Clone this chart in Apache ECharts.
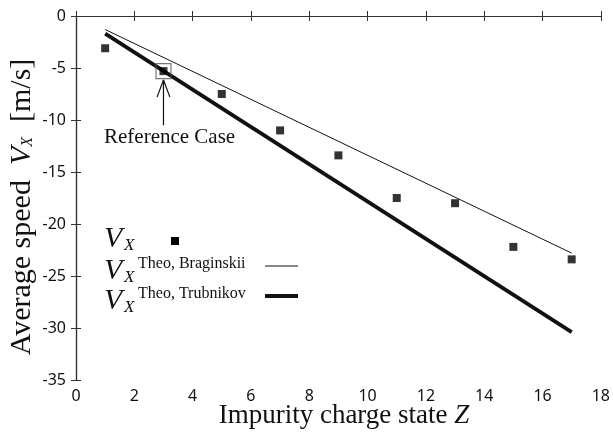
<!DOCTYPE html>
<html><head><meta charset="utf-8">
<script src="https://cdn.jsdelivr.net/npm/echarts@6/dist/echarts.min.js"></script>
<style>html,body{margin:0;padding:0;background:#fff}#c{width:613px;height:439px}</style>
</head><body><div id="c"></div>
<script>
const zValues = [1, 3, 5, 7, 9, 11, 13, 15, 17];
const vxValues = [-3.1, -5.3, -7.5, -11.0, -13.4, -17.5, -18.0, -22.2, -23.4];
const braginskiiZ = [1, 17];
const braginskiiV = [-1.3, -22.8];
const trubnikovZ = [1, 17];
const trubnikovV = [-1.7, -30.4];
const refCase = [3, -5.3];
const xTicks = [0, 2, 4, 6, 8, 10, 12, 14, 16, 18];
const yTicks = [0, -5, -10, -15, -20, -25, -30, -35];

const chart = echarts.init(document.getElementById('c'));
const serif = '"Liberation Serif", "DejaVu Serif", serif';
const sans = '"Noto Sans", "Open Sans", sans-serif';
const ink = '#111';

const axisCommon = {
  axisLine: { show: true, lineStyle: { color: '#333', width: 1.2 } },
  axisTick: { show: true, inside: true, length: 5, lineStyle: { color: '#333' } },
  splitLine: { show: false }
};

const option = {
  animation: false,
  grid: { left: 76, right: 3, top: 16, bottom: 59 },
  xAxis: [
    Object.assign({ type: 'value', min: 0, max: 18, interval: 2, position: 'bottom',
      axisLabel: { color: ink, fontFamily: sans, fontSize: 16, margin: 8 } }, axisCommon),
    Object.assign({ type: 'value', min: 0, max: 18, interval: 2, position: 'top',
      axisLabel: { show: false } }, axisCommon)
  ],
  yAxis: [
    Object.assign({ type: 'value', min: -35, max: 0, interval: 5, position: 'left',
      axisLabel: { color: ink, fontFamily: sans, fontSize: 16, margin: 10 } }, axisCommon),
    Object.assign({ type: 'value', min: -35, max: 0, interval: 5, position: 'right',
      axisLabel: { show: false } }, axisCommon)
  ],
  series: [
    { type: 'line', data: braginskiiZ.map((z, i) => [z, braginskiiV[i]]), symbol: 'none',
      lineStyle: { color: ink, width: 1 }, z: 2 },
    { type: 'line', data: trubnikovZ.map((z, i) => [z, trubnikovV[i]]), symbol: 'none',
      lineStyle: { color: ink, width: 3.8 }, z: 2 },
    { type: 'scatter', data: zValues.map((z, i) => [z, vxValues[i]]), symbol: 'rect', symbolSize: 8,
      itemStyle: { color: '#000' }, z: 3 },
    { type: 'scatter', data: [refCase], symbol: 'rect', symbolSize: 15,
      itemStyle: { color: 'rgba(0,0,0,0)', borderColor: '#555', borderWidth: 1.2 }, z: 4 },
    { type: 'line', data: [[3, -10.5], [3, -6.15]], symbol: 'none', lineStyle: { color: ink, width: 1.2 }, z: 4 },
    { type: 'line', data: [[2.78, -7.8], [3, -6.15], [3.22, -7.8]], symbol: 'none', lineStyle: { color: ink, width: 1.2 }, z: 4 }
  ]
};
chart.setOption(option);

const pRef = chart.convertToPixel({ xAxisIndex: 0, yAxisIndex: 0 }, [3, -10.5]);

chart.setOption({
  graphic: [
    { type: 'text', left: 104, top: pRef[1] + 2, style: { text: 'Reference Case', font: '21px ' + serif, fill: ink } },
    // y axis title
    { type: 'group', x: 22, y: 207, rotation: Math.PI / 2, children: [
      { type: 'text', style: { text: '{a|Average speed  }{v|V}{s|X}{a|  [m/s]}', x: 0, y: 0,
        align: 'center', verticalAlign: 'middle',
        rich: { a: { font: '30px ' + serif, fill: ink }, v: { font: 'italic 30px ' + serif, fill: ink },
          s: { font: 'italic 16px ' + serif, fill: ink, padding: [11, 0, 0, 0] } } } }
    ] },
    // x axis title
    { type: 'text', x: 344, y: 402, style: { text: '{a|Impurity charge state }{v|Z}', align: 'center',
      rich: { a: { font: '27px ' + serif, fill: ink }, v: { font: 'italic 27px ' + serif, fill: ink } } } },
    // legend row 1
    { type: 'text', x: 104, y: 224, style: { text: 'V', font: 'italic 30px ' + serif, fill: ink } },
    { type: 'text', x: 124, y: 237, style: { text: 'X', font: 'italic 17px ' + serif, fill: ink } },
    { type: 'rect', shape: { x: 171, y: 237, width: 8, height: 8 }, style: { fill: '#000' } },
    // legend row 2
    { type: 'text', x: 104, y: 256, style: { text: 'V', font: 'italic 30px ' + serif, fill: ink } },
    { type: 'text', x: 124, y: 269, style: { text: 'X', font: 'italic 17px ' + serif, fill: ink } },
    { type: 'text', x: 138, y: 256, style: { text: 'Theo, Braginskii', font: '16px ' + serif, fill: ink } },
    { type: 'line', shape: { x1: 265, y1: 266, x2: 298, y2: 266 }, style: { stroke: ink, lineWidth: 1 } },
    // legend row 3
    { type: 'text', x: 104, y: 286, style: { text: 'V', font: 'italic 30px ' + serif, fill: ink } },
    { type: 'text', x: 124, y: 299, style: { text: 'X', font: 'italic 17px ' + serif, fill: ink } },
    { type: 'text', x: 138, y: 286, style: { text: 'Theo, Trubnikov', font: '16px ' + serif, fill: ink } },
    { type: 'line', shape: { x1: 265, y1: 296, x2: 298, y2: 296 }, style: { stroke: ink, lineWidth: 3.8 } }
  ]
});
</script></body></html>
